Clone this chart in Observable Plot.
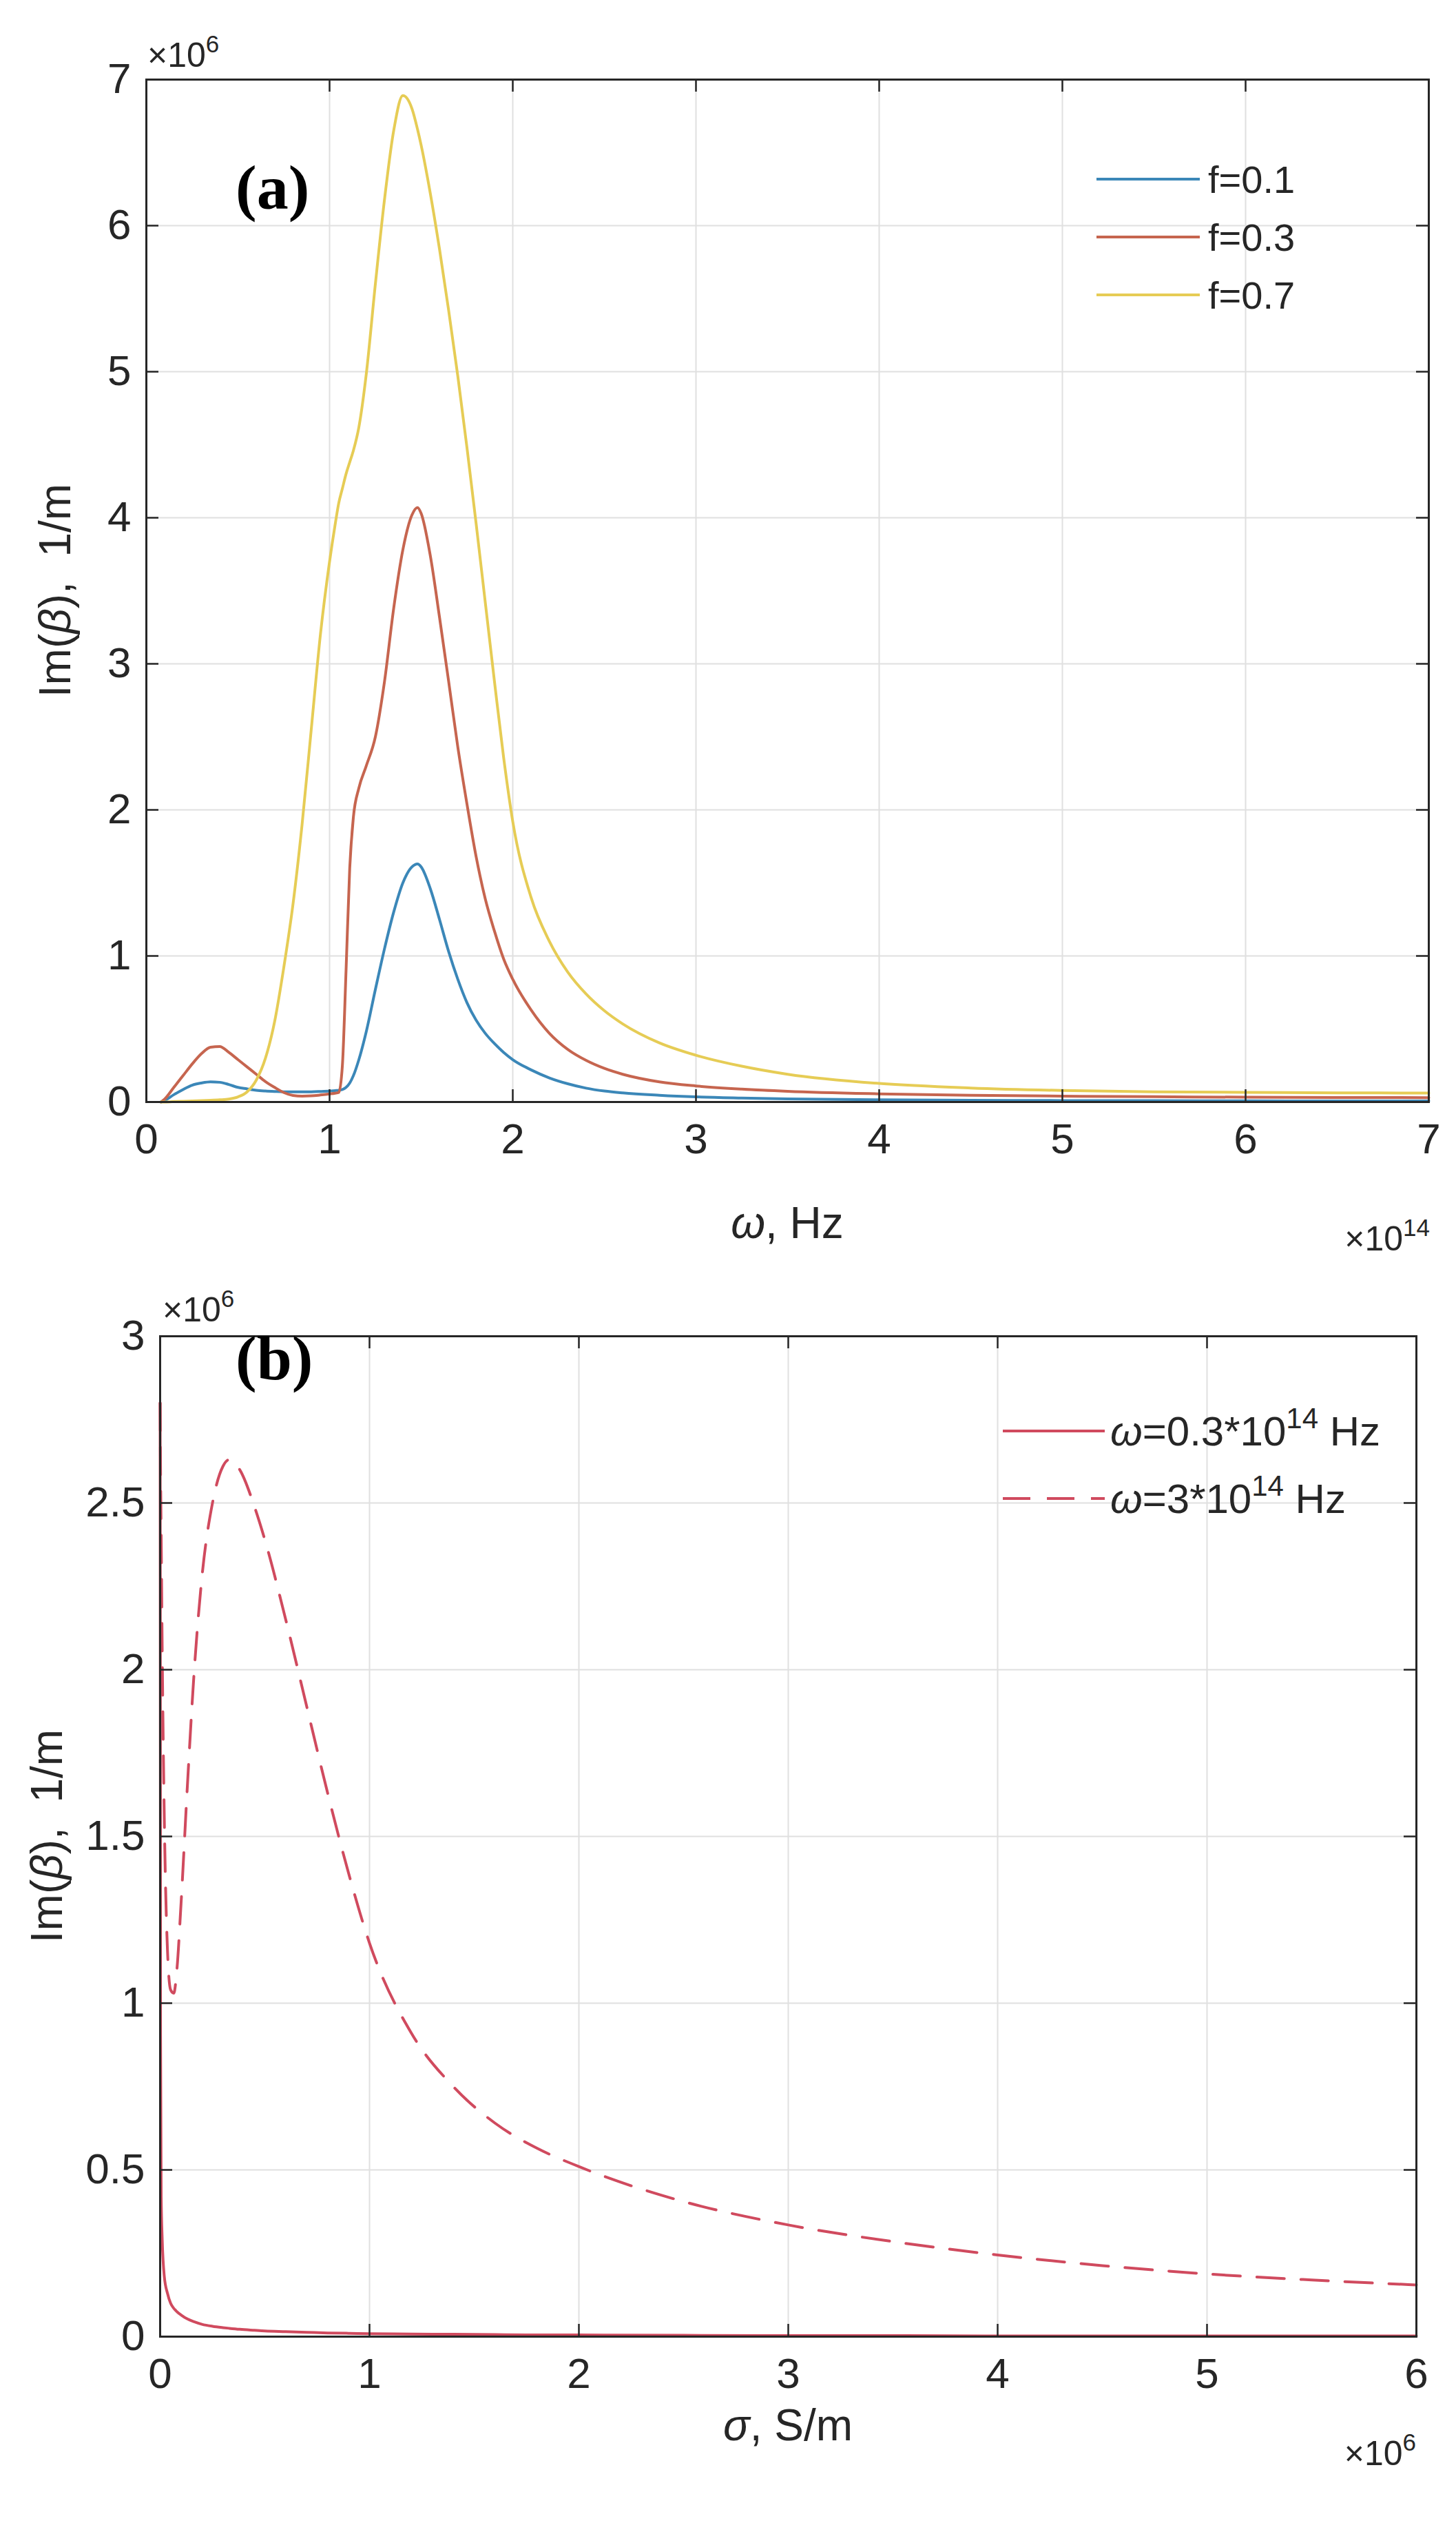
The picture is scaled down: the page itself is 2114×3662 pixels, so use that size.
<!DOCTYPE html>
<html><head><meta charset="utf-8">
<script src="https://cdn.jsdelivr.net/npm/d3@7"></script>
<script src="https://cdn.jsdelivr.net/npm/@observablehq/plot@0.6"></script>
<style>
html,body{margin:0;padding:0;background:#fff;}
#root{width:2114px;}
#root svg{display:block;}
</style></head><body><div id="root"></div>
<script>
// ---------- Panel (a) data: omega in units of 1e14 Hz, Im(beta) in units of 1e6 1/m
const omegaA = [0.08,0.1,0.15,0.2,0.25,0.3,0.35,0.4,0.45,0.5,
  0.55,0.6,0.65,0.7,0.75,0.8,0.85,0.9,0.95,1.0,
  1.03,1.05,1.07,1.09,1.11,1.13,1.16,1.2,1.25,1.3,
  1.35,1.4,1.45,1.48,1.5,1.55,1.6,1.65,1.7,1.75,
  1.8,1.85,1.9,1.95,2.0,2.1,2.2,2.3,2.4,2.5,
  2.6,2.8,3.0,3.25,3.5,4.0,4.5,5.0,5.5,6.0,
  6.5,7.0];
const imF01 = [0,0.01,0.05,0.085,0.115,0.13,0.138,0.135,0.12,0.1,
  0.09,0.08,0.075,0.072,0.07,0.07,0.07,0.07,0.072,0.075,
  0.078,0.08,0.085,0.1,0.13,0.18,0.29,0.48,0.77,1.05,
  1.3,1.5,1.61,1.63,1.61,1.46,1.25,1.03,0.84,0.68,
  0.56,0.47,0.4,0.34,0.29,0.22,0.165,0.125,0.095,0.075,
  0.062,0.046,0.035,0.027,0.021,0.015,0.012,0.01,0.009,0.008,
  0.007,0.007];
const imF03 = [0,0.02,0.1,0.18,0.26,0.33,0.375,0.38,0.34,0.29,
  0.24,0.19,0.14,0.1,0.065,0.045,0.04,0.042,0.048,0.055,
  0.06,0.065,0.25,0.9,1.6,1.95,2.15,2.3,2.5,2.88,
  3.38,3.78,4.02,4.07,4.03,3.74,3.32,2.88,2.43,2.04,
  1.68,1.39,1.17,0.98,0.84,0.63,0.47,0.36,0.285,0.23,
  0.19,0.138,0.11,0.088,0.073,0.056,0.046,0.04,0.036,0.033,
  0.031,0.03];
const imF07 = [0,0,0.003,0.005,0.007,0.01,0.012,0.015,0.02,0.035,
  0.07,0.15,0.3,0.55,0.92,1.35,1.9,2.55,3.2,3.7,
  3.95,4.1,4.2,4.3,4.38,4.46,4.62,4.98,5.6,6.18,
  6.65,6.89,6.8,6.66,6.55,6.22,5.84,5.42,4.97,4.48,
  3.96,3.42,2.88,2.36,1.92,1.4,1.1,0.89,0.74,0.625,
  0.535,0.405,0.32,0.245,0.19,0.127,0.096,0.079,0.07,0.066,
  0.063,0.061];
const namesA = ["f=0.1","f=0.3","f=0.7"];
const xTicksA = [0,1,2,3,4,5,6,7];
const yTicksA = [0,1,2,3,4,5,6,7];

// ---------- Panel (b) data: sigma in units of 1e6 S/m, Im(beta) in units of 1e6 1/m
const sigmaB = [0,0.002,0.005,0.01,0.02,0.035,0.05,0.065,0.08,0.1,
  0.13,0.16,0.2,0.25,0.3,0.33,0.38,0.45,0.5,0.6,
  0.7,0.8,0.9,1.0,1.2,1.4,1.6,1.8,2.0,2.5,
  3.0,3.5,4.0,4.5,5.0,5.5,6.0];
const imW03 = [2.8,0.9,0.42,0.29,0.18,0.13,0.1,0.085,0.075,0.065,
  0.053,0.045,0.037,0.031,0.027,0.025,0.022,0.019,0.017,0.015,
  0.013,0.011,0.01,0.009,0.008,0.007,0.006,0.005,0.005,0.004,
  0.003,0.003,0.002,0.002,0.002,0.002,0.002];
const imW3 = [2.8,2.6,2.4,2.05,1.55,1.16,1.04,1.03,1.1,1.3,
  1.65,1.97,2.28,2.5,2.61,2.63,2.6,2.49,2.39,2.15,
  1.89,1.63,1.39,1.18,0.91,0.75,0.64,0.565,0.51,0.405,
  0.335,0.285,0.245,0.213,0.188,0.17,0.155];
const namesB = ["w03","w3"];
const xTicksB = [0,1,2,3,4,5,6];
const yTicksB = [0,0.5,1,1.5,2,2.5,3];

// ---------- styles
const FONT = "'Liberation Sans', Arial, Helvetica, sans-serif";
const SERIF = "'Liberation Serif', 'Times New Roman', serif";
const INK = "#262626";
const GRID = "#e0e0e0";
const colorsA = ["#3b87b8", "#c6654f", "#e6cc55"];
const colorB = "#d04a5e";
const FS_TICK = 62, FS_LABEL = 64, FS_LEG = 56, FS_EXP = 50;

const rowsA = [];
[imF01, imF03, imF07].forEach((vals, i) => vals.forEach((v, j) => rowsA.push({omega: omegaA[j], value: v, series: namesA[i]})));
const rowsB = [];
[imW03, imW3].forEach((vals, i) => vals.forEach((v, j) => rowsB.push({sigma: sigmaB[j], value: v, series: namesB[i]})));

function frameMarks(xt, yt, innerW, innerH) {
  const t = 18;
  return [
    Plot.tickX(xt, {x: d => d, insetTop: innerH - t, stroke: INK, strokeWidth: 2.5}),
    Plot.tickX(xt, {x: d => d, insetBottom: innerH - t, stroke: INK, strokeWidth: 2.5}),
    Plot.tickY(yt, {y: d => d, insetRight: innerW - t, stroke: INK, strokeWidth: 2.5}),
    Plot.tickY(yt, {y: d => d, insetLeft: innerW - t, stroke: INK, strokeWidth: 2.5}),
    Plot.axisX({ticks: xt, tickSize: 0, tickPadding: 30, fontSize: FS_TICK, fill: INK, label: null, tickFormat: d => String(d)}),
    Plot.axisY({ticks: yt, tickSize: 0, tickPadding: 22, fontSize: FS_TICK, fill: INK, label: null, tickFormat: d => String(d)}),
    Plot.frame({stroke: INK, strokeWidth: 3})
  ];
}

function addText(svg, x, y, parts, opts = {}) {
  const base = opts.size || FS_LABEL;
  const t = d3.select(svg).append("text")
    .attr("x", x).attr("y", y)
    .attr("font-family", opts.family || FONT)
    .attr("font-size", base)
    .attr("font-weight", opts.weight || "normal")
    .attr("fill", opts.fill || INK)
    .attr("text-anchor", opts.anchor || "start");
  if (opts.transform) t.attr("transform", opts.transform);
  let shifted = 0;
  parts.forEach(p => {
    const s = t.append("tspan").text(p.t);
    if (p.italic) s.attr("font-style", "italic");
    if (p.sup) {
      const dy = -0.42 * base;
      s.attr("font-size", base * 0.7).attr("dy", dy - shifted);
      shifted = dy;
    } else if (shifted !== 0) {
      s.attr("dy", -shifted);
      shifted = 0;
    }
  });
  return t;
}

// ---------- Panel (a)
const WA = 2114, HA = 1830, mtA = 115, mbA = 231, mlA = 212, mrA = 40;
const chartA = Plot.plot({
  width: WA, height: HA, marginTop: mtA, marginBottom: mbA, marginLeft: mlA, marginRight: mrA,
  style: {fontFamily: FONT, background: "#fff", color: INK},
  x: {domain: [0, 7]},
  y: {domain: [0, 7]},
  color: {domain: namesA, range: colorsA},
  marks: [
    Plot.gridX(xTicksA, {stroke: GRID, strokeOpacity: 1, strokeWidth: 2}),
    Plot.gridY(yTicksA, {stroke: GRID, strokeOpacity: 1, strokeWidth: 2}),
    Plot.line(rowsA, {x: "omega", y: "value", z: "series", stroke: "series", strokeWidth: 4, curve: "monotone-x"}),
    ...frameMarks(xTicksA, yTicksA, WA - mlA - mrA, HA - mtA - mbA)
  ]
});
document.getElementById("root").appendChild(chartA);

addText(chartA, 214, 97, [{t: "×10"}, {t: "6", sup: true}], {size: FS_EXP});
addText(chartA, 342, 303, [{t: "(a)"}], {family: SERIF, size: 92, weight: "bold", fill: "#000"});
namesA.forEach((n, i) => {
  const y = 260 + 84 * i;
  d3.select(chartA).append("line").attr("x1", 1592).attr("x2", 1742).attr("y1", y).attr("y2", y)
    .attr("stroke", colorsA[i]).attr("stroke-width", 4);
  addText(chartA, 1754, y + 20, [{t: n}], {size: FS_LEG});
});
addText(chartA, 0, 0, [{t: "Im("}, {t: "β", italic: true}, {t: "),  1/m"}],
  {anchor: "middle", transform: "translate(102,857) rotate(-90)"});
addText(chartA, 1143, 1797, [{t: "ω", italic: true}, {t: ", Hz"}], {anchor: "middle"});
addText(chartA, 2076, 1815, [{t: "×10"}, {t: "14", sup: true}], {anchor: "end", size: FS_EXP});

// ---------- Panel (b)
const WB = 2114, HB = 1832, mtB = 109, mbB = 271, mlB = 232, mrB = 58;
const chartB = Plot.plot({
  width: WB, height: HB, marginTop: mtB, marginBottom: mbB, marginLeft: mlB, marginRight: mrB,
  style: {fontFamily: FONT, background: "#fff", color: INK},
  x: {domain: [0, 6]},
  y: {domain: [0, 3]},
  marks: [
    Plot.gridX(xTicksB, {stroke: GRID, strokeOpacity: 1, strokeWidth: 2}),
    Plot.gridY(yTicksB, {stroke: GRID, strokeOpacity: 1, strokeWidth: 2}),
    Plot.line(rowsB, {filter: d => d.series === "w03", x: "sigma", y: "value", stroke: colorB, strokeWidth: 4, curve: "monotone-x"}),
    Plot.line(rowsB, {filter: d => d.series === "w3", x: "sigma", y: "value", stroke: colorB, strokeWidth: 4, strokeDasharray: "40,24", curve: "monotone-x"}),
    ...frameMarks(xTicksB, yTicksB, WB - mlB - mrB, HB - mtB - mbB)
  ]
});
document.getElementById("root").appendChild(chartB);

addText(chartB, 236, 88, [{t: "×10"}, {t: "6", sup: true}], {size: FS_EXP});
addText(chartB, 342, 172, [{t: "(b)"}], {family: SERIF, size: 92, weight: "bold", fill: "#000"});
const legB = [
  {parts: [{t: "ω", italic: true}, {t: "=0.3*10"}, {t: "14", sup: true}, {t: " Hz"}], dash: null},
  {parts: [{t: "ω", italic: true}, {t: "=3*10"}, {t: "14", sup: true}, {t: " Hz"}], dash: "40,24"}
];
legB.forEach((L, i) => {
  const y = 247 + 98 * i;
  const ln = d3.select(chartB).append("line").attr("x1", 1456).attr("x2", 1604).attr("y1", y).attr("y2", y)
    .attr("stroke", colorB).attr("stroke-width", 4);
  if (L.dash) ln.attr("stroke-dasharray", L.dash);
  addText(chartB, 1612, y + 21, L.parts, {size: 60});
});
addText(chartB, 0, 0, [{t: "Im("}, {t: "β", italic: true}, {t: "),  1/m"}],
  {anchor: "middle", transform: "translate(90,835) rotate(-90)"});
addText(chartB, 1144, 1712, [{t: "σ", italic: true}, {t: ", S/m"}], {anchor: "middle"});
addText(chartB, 2056, 1748, [{t: "×10"}, {t: "6", sup: true}], {anchor: "end", size: FS_EXP});
</script></body></html>
